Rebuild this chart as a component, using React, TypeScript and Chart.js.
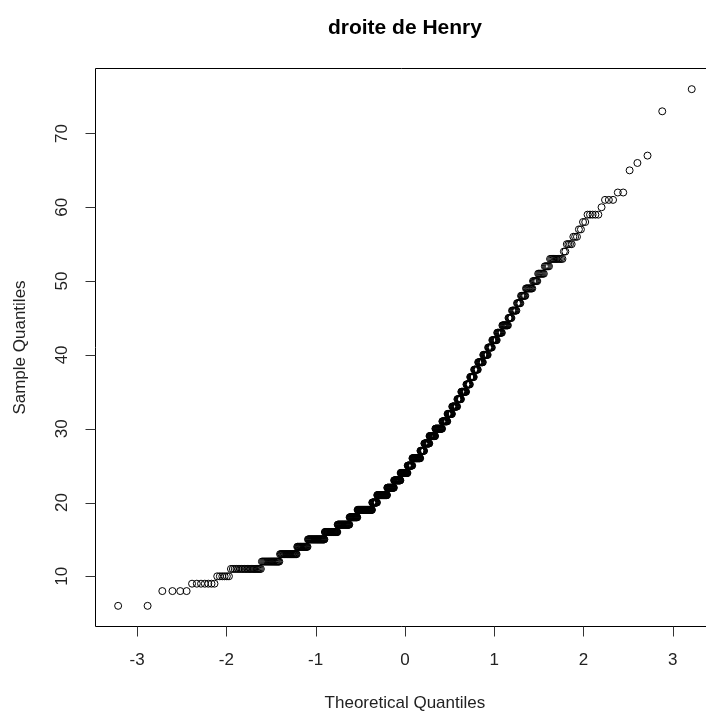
import React, { useEffect, useRef } from "react";
import { Chart, registerables } from "chart.js";

Chart.register(...registerables);

const chartTitle = "droite de Henry";
const xAxisTitle = "Theoretical Quantiles";
const yAxisTitle = "Sample Quantiles";
const xTickValues = [-3, -2, -1, 0, 1, 2, 3];
const yTickValues = [10, 20, 30, 40, 50, 60, 70];

// Sample values (sorted) and how many observations take each value
const sampleLevels = [
  6, 8, 9, 10, 11, 12, 13, 14, 15, 16, 17, 18, 19, 20, 21, 22, 23, 24, 25, 26,
  27, 28, 29, 30, 31, 32, 33, 34, 35, 36, 37, 38, 39, 40, 41, 42, 43, 44, 45,
  46, 47, 48, 49, 50, 51, 52, 53, 54, 55, 56, 57, 58, 59, 60, 61, 62, 65, 66,
  67, 73, 76,
];
const sampleCounts = [
  2, 4, 7, 6, 22, 20, 25, 19, 35, 31, 32, 23, 45, 16, 33, 23, 22, 24, 16, 27,
  13, 17, 19, 22, 16, 14, 15, 11, 14, 10, 10, 10, 12, 11, 9, 10, 10, 11, 6, 8,
  6, 7, 9, 6, 7, 5, 11, 2, 4, 3, 2, 2, 5, 1, 3, 2, 1, 1, 1, 1, 1,
];

const xRange = [-3.466, 3.322];
const yRange = [3.2, 78.8];

// inverse standard normal CDF (Acklam)
function qnorm(p: number): number {
  const a = [-3.969683028665376e1, 2.209460984245205e2, -2.759285104469687e2, 1.38357751867269e2, -3.066479806614716e1, 2.506628277459239];
  const b = [-5.447609879822406e1, 1.615858368580409e2, -1.556989798598866e2, 6.680131188771972e1, -1.328068155288572e1];
  const c = [-7.784894002430293e-3, -3.223964580411365e-1, -2.400758277161838, -2.549732539343734, 4.374664141464968, 2.938163982698783];
  const d = [7.784695709041462e-3, 3.224671290700398e-1, 2.445134137142996, 3.754408661907416];
  const pl = 0.02425;
  const ph = 1 - pl;
  let q: number, r: number;
  if (p < pl) {
    q = Math.sqrt(-2 * Math.log(p));
    return (((((c[0] * q + c[1]) * q + c[2]) * q + c[3]) * q + c[4]) * q + c[5]) /
      ((((d[0] * q + d[1]) * q + d[2]) * q + d[3]) * q + 1);
  }
  if (p <= ph) {
    q = p - 0.5;
    r = q * q;
    return ((((((a[0] * r + a[1]) * r + a[2]) * r + a[3]) * r + a[4]) * r + a[5]) * q) /
      (((((b[0] * r + b[1]) * r + b[2]) * r + b[3]) * r + b[4]) * r + 1);
  }
  q = Math.sqrt(-2 * Math.log(1 - p));
  return -(((((c[0] * q + c[1]) * q + c[2]) * q + c[3]) * q + c[4]) * q + c[5]) /
    ((((d[0] * q + d[1]) * q + d[2]) * q + d[3]) * q + 1);
}

function buildQQ() {
  const sample: number[] = [];
  sampleLevels.forEach((v, i) => {
    for (let k = 0; k < sampleCounts[i]; k++) sample.push(v);
  });
  const n = sample.length;
  return sample.map((y, i) => ({ x: qnorm((i + 0.5) / n), y }));
}

const FONT = "'Liberation Sans', Arial, Helvetica, sans-serif";

const axesPlugin = {
  id: "rAxes",
  afterDraw(chart: any) {
    const { ctx, chartArea, scales } = chart;
    const xs = scales.x;
    const ys = scales.y;
    const L = chartArea.left, T = chartArea.top, B = chartArea.bottom, R = chartArea.right;
    ctx.save();
    // box
    ctx.strokeStyle = "#000";
    ctx.lineWidth = 1;
    ctx.beginPath();
    ctx.moveTo(R + 20, T);
    ctx.lineTo(L, T);
    ctx.lineTo(L, B);
    ctx.lineTo(R + 20, B);
    ctx.stroke();
    // ticks
    ctx.strokeStyle = "#333";
    ctx.beginPath();
    xTickValues.forEach((v) => {
      const px = Math.round(xs.getPixelForValue(v)) + 0.5;
      ctx.moveTo(px, B);
      ctx.lineTo(px, B + 10);
    });
    yTickValues.forEach((v) => {
      const py = Math.round(ys.getPixelForValue(v)) + 0.5;
      ctx.moveTo(L, py);
      ctx.lineTo(L - 10, py);
    });
    ctx.stroke();
    // tick labels
    ctx.fillStyle = "#222";
    ctx.font = `17px ${FONT}`;
    ctx.textAlign = "center";
    ctx.textBaseline = "middle";
    xTickValues.forEach((v) => {
      ctx.fillText(String(v), xs.getPixelForValue(v), 660);
    });
    yTickValues.forEach((v) => {
      ctx.save();
      ctx.translate(62, ys.getPixelForValue(v));
      ctx.rotate(-Math.PI / 2);
      ctx.fillText(String(v), 0, 0);
      ctx.restore();
    });
    // axis titles
    const cx = (L + xs.getPixelForValue(xRange[0] + (xRange[1] - xRange[0])) ) / 2;
    const plotCenterX = xs.getPixelForValue(0);
    ctx.fillText(xAxisTitle, plotCenterX, 703);
    ctx.save();
    ctx.translate(20, (T + B) / 2);
    ctx.rotate(-Math.PI / 2);
    ctx.fillText(yAxisTitle, 0, 0);
    ctx.restore();
    // main title
    ctx.fillStyle = "#000";
    ctx.font = `bold 21px ${FONT}`;
    ctx.fillText(chartTitle, plotCenterX, 28);
    ctx.restore();
    void cx;
  },
};

export default function App() {
  const ref = useRef<HTMLCanvasElement | null>(null);
  useEffect(() => {
    if (!ref.current) return;
    const chart = new Chart(ref.current, {
      type: "scatter",
      data: {
        datasets: [
          {
            data: buildQQ(),
            pointRadius: 3.5,
            pointHoverRadius: 3.5,
            borderWidth: 1,
            borderColor: "#000",
            backgroundColor: "rgba(0,0,0,0)",
            pointStyle: "circle",
          },
        ],
      },
      options: {
        animation: false,
        responsive: false,
        devicePixelRatio: 1,
        layout: { padding: { left: 95.5, top: 68.5, right: 0, bottom: 84.5 } },
        plugins: { legend: { display: false }, tooltip: { enabled: false }, title: { display: false } },
        scales: {
          x: { type: "linear", display: false, min: xRange[0], max: xRange[1] },
          y: { type: "linear", display: false, min: yRange[0], max: yRange[1] },
        },
      },
      plugins: [axesPlugin],
    });
    return () => chart.destroy();
  }, []);
  return (
    <div style={{ position: "absolute", left: 0, top: 0, width: 706, height: 711, background: "#fff" }}>
      <canvas ref={ref} width={706} height={711} style={{ width: 706, height: 711, display: "block" }} />
    </div>
  );
}
